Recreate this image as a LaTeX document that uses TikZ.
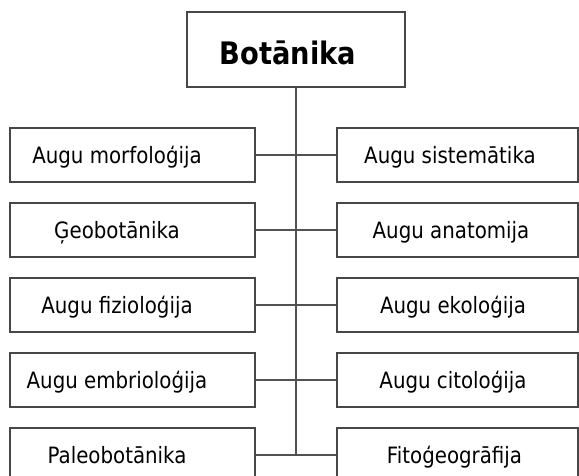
\documentclass[tikz,border=0pt]{standalone}
\usepackage{fontspec}
\setmainfont{DejaVu Sans}[FakeStretch=0.88]
\begin{document}
\begin{tikzpicture}[x=1pt,y=-1pt,
  frame/.style={draw=black!72,line width=1.1pt,rectangle,inner sep=0pt},
  lbox/.style={frame,minimum width=245pt,minimum height=54pt},
  rbox/.style={frame,minimum width=241pt,minimum height=54pt},
  tbox/.style={frame,minimum width=218pt,minimum height=75pt},
  lbl/.style={anchor=base,inner sep=0pt,font=\fontsize{22.5}{26}\selectfont,text=black},
  ttl/.style={anchor=base,inner sep=0pt,font=\fontsize{31}{35}\selectfont\bfseries,text=black},
  link/.style={draw=black!68,line width=1.1pt}]
\useasboundingbox (0,0) rectangle (579,475);
\clip (0,0) rectangle (579,475);
\fill[white] (0,0) rectangle (579,475);
% title
\node[tbox] (T) at (296,49.5) {};
\node[ttl] (Tt) at (288,64) {Botānika};
% left boxes
\node[lbox] (L1) at (132.5,155) {};
\node[lbox] (L2) at (132.5,230) {};
\node[lbox] (L3) at (132.5,305) {};
\node[lbox] (L4) at (132.5,380) {};
\node[lbox] (L5) at (132.5,455) {};
% right boxes
\node[rbox] (R1) at (457.5,155) {};
\node[rbox] (R2) at (457.5,230) {};
\node[rbox] (R3) at (457.5,305) {};
\node[rbox] (R4) at (457.5,380) {};
\node[rbox] (R5) at (457.5,455) {};
% labels
\node[lbl] (L1t) at (117,163) {Augu morfoloģija};
\node[lbl] (L2t) at (117,238) {Ģeobotānika};
\node[lbl] (L3t) at (117,313) {Augu fizioloģija};
\node[lbl] (L4t) at (117,388) {Augu embrioloģija};
\node[lbl] (L5t) at (117,463) {Paleobotānika};
\node[lbl] (R1t) at (450,163) {Augu sistemātika};
\node[lbl] (R2t) at (451,238) {Augu anatomija};
\node[lbl] (R3t) at (453,313) {Augu ekoloģija};
\node[lbl] (R4t) at (453,388) {Augu citoloģija};
\node[lbl] (R5t) at (454.5,463) {Fitoģeogrāfija};
% connectors
\coordinate (J) at (L5.east -| T.south);
\draw[link] (T.south) -- (J);
\draw[link] (L1.east) -- (R1.west);
\draw[link] (L2.east) -- (R2.west);
\draw[link] (L3.east) -- (R3.west);
\draw[link] (L4.east) -- (R4.west);
\draw[link] (L5.east) -- (R5.west);
\end{tikzpicture}
\end{document}
